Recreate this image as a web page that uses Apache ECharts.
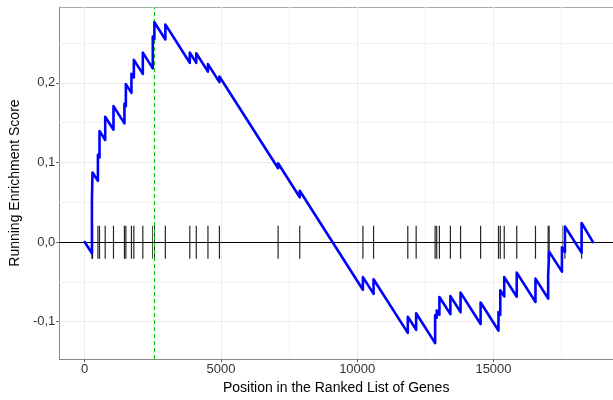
<!DOCTYPE html>
<html><head><meta charset="utf-8">
<script src="https://cdn.jsdelivr.net/npm/echarts@6/dist/echarts.min.js"></script>
<style>html,body{margin:0;padding:0;background:#fff}#c{width:613px;height:400px}</style>
</head><body><div id="c"></div>
<script>
// Running enrichment score curve (vertices)
const esX = [1, 267, 267, 289, 289, 487, 487, 545, 545, 754, 754, 1058, 1058, 1460, 1460, 1512, 1512,
  1717, 1717, 1805, 1805, 2134, 2134, 2500, 2500, 2559, 2559, 2961, 2961, 3858, 3858, 4096, 4096,
  4524, 4524, 4945, 4945, 7097, 7097, 7892, 7892, 10209, 10209, 10600, 10600, 11856, 11856,
  12163, 12163, 12859, 12859, 12917, 12917, 13016, 13016, 13419, 13419, 13792, 13792, 14528, 14528,
  15183, 15183, 15249, 15249, 15395, 15395, 15853, 15853, 16541, 16541, 17006, 17006, 17042, 17042,
  17511, 17511, 17621, 17621, 18232, 18232, 18650];
const esY = [0, -0.014, 0.054, 0.053, 0.0875, 0.077, 0.1095, 0.1064, 0.1395, 0.1283, 0.1575, 0.1412, 0.1708,
  0.1492, 0.1737, 0.1709, 0.1985, 0.1875, 0.2115, 0.2068, 0.229, 0.2113, 0.238, 0.2183, 0.2583,
  0.2551, 0.2762, 0.2546, 0.2735, 0.2253, 0.238, 0.2252, 0.2372, 0.2142, 0.2236, 0.201, 0.208,
  0.0928, 0.099, 0.0563, 0.0645, -0.0599, -0.0441, -0.0651, -0.0467, -0.1141, -0.0938,
  -0.1103, -0.0895, -0.127, -0.092, -0.0951, -0.086, -0.0913, -0.069, -0.0906, -0.068,
  -0.088, -0.0635, -0.103, -0.076, -0.1112, -0.088, -0.0915, -0.0605, -0.0683, -0.0441,
  -0.0687, -0.0384, -0.0753, -0.046, -0.071, -0.0417, -0.0436, -0.012, -0.0372, -0.0066,
  -0.0125, 0.0195, -0.0133, 0.024, 0];
// Positions of the gene-set members (rug)
const hitPositions = [267, 289, 487, 545, 754, 1058, 1460, 1512, 1717, 1805, 2134, 2500, 2559, 2961,
  3858, 4096, 4524, 4945, 7097, 7892, 10209, 10600, 11856, 12163, 12859, 12917, 13016, 13419,
  13792, 14528, 15183, 15249, 15395, 15853, 16541, 17006, 17042, 17511, 17621, 18232];
const peakPosition = 2559;
const xTickValues = [0, 5000, 10000, 15000];
const xMinorValues = [2500, 7500, 12500, 17500];
const yTickValues = [-0.1, 0, 0.1, 0.2];
const yMinorValues = [-0.05, 0.05, 0.15, 0.25];
const xTitle = 'Position in the Ranked List of Genes';
const yTitle = 'Running Enrichment Score';

const FONT = 'Liberation Sans, Arial, sans-serif';
const curve = esX.map((x, i) => [x, esY[i]]);
const gridLines = [];
xTickValues.forEach(v => gridLines.push({xAxis: v, lineStyle: {color: '#EBEBEB', width: 1, type: 'solid'}}));
xMinorValues.forEach(v => gridLines.push({xAxis: v, lineStyle: {color: '#F2F2F2', width: 1, type: 'solid'}}));
yTickValues.forEach(v => gridLines.push({yAxis: v, lineStyle: {color: '#EBEBEB', width: 1, type: 'solid'}}));
yMinorValues.forEach(v => gridLines.push({yAxis: v, lineStyle: {color: '#F2F2F2', width: 1, type: 'solid'}}));

const chart = echarts.init(document.getElementById('c'), null, {renderer: 'canvas'});
chart.setOption({
  animation: false,
  backgroundColor: '#fff',
  grid: {left: 59, right: -1, top: 7, bottom: 39, containLabel: false},
  xAxis: [{
    type: 'value', min: -930, max: 19385,
    splitLine: {show: false},
    axisLine: {show: true, onZero: false, lineStyle: {color: '#888', width: 1}},
    axisTick: {show: true, length: 3, customValues: xTickValues, lineStyle: {color: '#555'}},
    axisLabel: {customValues: xTickValues, color: '#333', fontSize: 13, fontFamily: FONT, margin: 4,
      formatter: v => String(Math.round(v))},
    name: xTitle, nameLocation: 'middle', nameGap: 18,
    nameTextStyle: {color: '#000', fontSize: 14, fontFamily: FONT}
  }, {
    type: 'value', position: 'top', min: -930, max: 19385,
    splitLine: {show: false}, axisTick: {show: false}, axisLabel: {show: false},
    axisLine: {show: true, onZero: false, lineStyle: {color: '#AAA', width: 1}}
  }],
  yAxis: {
    type: 'value', min: -0.1471, max: 0.2954,
    splitLine: {show: false},
    axisLine: {show: true, onZero: false, lineStyle: {color: '#888', width: 1}},
    axisTick: {show: true, length: 3, customValues: yTickValues, lineStyle: {color: '#555'}},
    axisLabel: {customValues: yTickValues, color: '#333', fontSize: 13, fontFamily: FONT, margin: 4,
      formatter: v => v.toFixed(1).replace('.', ',')},
    name: yTitle, nameLocation: 'middle', nameGap: 32, nameRotate: 90,
    nameTextStyle: {color: '#000', fontSize: 14, fontFamily: FONT}
  },
  series: [{
    type: 'line', data: [], z: 1, silent: true,
    markLine: {silent: true, symbol: ['none', 'none'], label: {show: false}, animation: false, data: gridLines}
  }, {
    type: 'line', data: [], z: 2, silent: true,
    markLine: {silent: true, symbol: ['none', 'none'], label: {show: false}, animation: false,
      data: [{yAxis: 0, lineStyle: {color: '#000', width: 1, type: 'solid'}}]}
  }, {
    type: 'custom', z: 3, silent: true,
    data: hitPositions.map(x => [x]),
    renderItem: (params, api) => {
      const x = api.value(0);
      const p1 = api.coord([x, 0.0205]);
      const p2 = api.coord([x, -0.021]);
      return {type: 'line', shape: {x1: p1[0], y1: p1[1], x2: p2[0], y2: p2[1]},
        style: {stroke: 'rgba(0,0,0,0.85)', lineWidth: 1.2}};
    }
  }, {
    type: 'line', data: curve, z: 5, symbol: 'none', silent: true,
    lineStyle: {color: '#0000FF', width: 2.6, join: 'round', cap: 'round'}
  }, {
    type: 'line', data: [], z: 4, silent: true,
    markLine: {silent: true, symbol: ['none', 'none'], label: {show: false}, animation: false,
      data: [{xAxis: peakPosition, lineStyle: {color: '#00C800', width: 1, type: [4, 3]}}]}
  }]
});
</script></body></html>
